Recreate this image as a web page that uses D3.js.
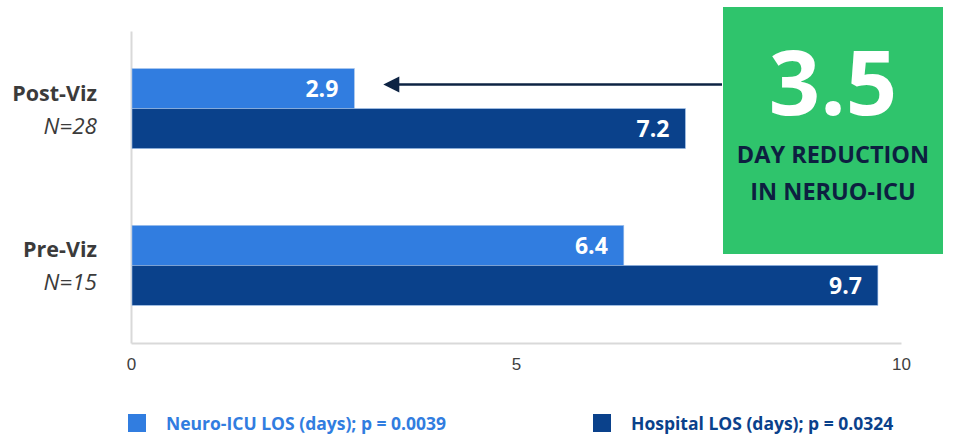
<!DOCTYPE html>
<html>
<head>
<meta charset="utf-8">
<script src="https://cdn.jsdelivr.net/npm/d3@7"></script>
<style>
  body { margin: 0; background: #fff; }
  svg { display: block; font-family: "Open Sans", sans-serif; }
</style>
</head>
<body>
<div id="chart"></div>
<script>
const groups = ['Post-Viz', 'Pre-Viz'];
const nLabels = ['N=28', 'N=15'];
const neuroICU = [2.9, 6.4];
const hospital = [7.2, 9.7];
const seriesNames = ['Neuro-ICU LOS (days); p = 0.0039', 'Hospital LOS (days); p = 0.0324'];
const seriesColors = ['#317de0', '#0a418b'];
const xTicks = [0, 5, 10];
const reduction = '3.5';
const reductionText = ['DAY REDUCTION', 'IN NERUO-ICU'];

const largura = 958, altura = 434;
const svg = d3.select('#chart').append('svg')
    .attr('width', largura)
    .attr('height', altura);

const x = d3.scaleLinear().domain([0, 10]).range([131, 901]);
const y = d3.scaleBand().domain(groups).range([31, 343])
    .paddingInner(0.49).paddingOuter(0.24);
const ySub = d3.scaleBand().domain([0, 1]).range([0, y.bandwidth()]);

// eixos
const gx = svg.append('g')
    .attr('transform', 'translate(0,343)')
    .call(d3.axisBottom(x).tickValues(xTicks).tickSize(0).tickPadding(15));
gx.select('.domain').attr('stroke', '#d9d9d9').attr('stroke-width', 2);
gx.selectAll('text')
    .attr('font-size', 17)
    .attr('font-weight', 300)
    .attr('fill', '#404040');

const gy = svg.append('g')
    .attr('transform', 'translate(131,0)')
    .call(d3.axisLeft(y).tickSize(0).tickFormat(''));
gy.select('.domain').attr('stroke', '#d9d9d9').attr('stroke-width', 2);

// barras
const rows = groups.map((g, i) => ({ grupo: g, n: nLabels[i], valores: [neuroICU[i], hospital[i]] }));
const grupo = svg.append('g').selectAll('g')
    .data(rows)
    .enter()
    .append('g')
    .attr('transform', d => `translate(0,${y(d.grupo)})`);

grupo.selectAll('rect')
    .data(d => d.valores)
    .enter()
    .append('rect')
    .attr('x', x(0) + 1)
    .attr('y', (d, i) => ySub(i))
    .attr('width', d => x(d) - x(0) - 1)
    .attr('height', ySub.bandwidth())
    .attr('fill', (d, i) => seriesColors[i])
    .attr('stroke', '#9fc0ea')
    .attr('stroke-width', 0.6);

grupo.selectAll('text.valor')
    .data(d => d.valores)
    .enter()
    .append('text')
    .attr('class', 'valor')
    .attr('x', d => x(d) - 16)
    .attr('y', (d, i) => ySub(i) + ySub.bandwidth() / 2 + 8.5)
    .attr('text-anchor', 'end')
    .attr('font-size', 23)
    .attr('font-weight', 700)
    .attr('fill', '#fff')
    .text(d => d.toFixed(1));

// rótulos das categorias
grupo.append('text')
    .attr('x', 97)
    .attr('y', y.bandwidth() / 2 - 8)
    .attr('text-anchor', 'end')
    .attr('font-size', 21.5)
    .attr('font-weight', 700)
    .attr('fill', '#3b3b3b')
    .text(d => d.grupo);

grupo.append('text')
    .attr('x', 97)
    .attr('y', y.bandwidth() / 2 + 25)
    .attr('text-anchor', 'end')
    .attr('font-size', 22.5)
    .attr('font-style', 'italic')
    .attr('fill', '#3b3b3b')
    .text(d => d.n);

// seta
const arrowY = y(groups[0]) + ySub.bandwidth() / 2 - 4;
const tip = x(neuroICU[0]) + 29;
svg.append('line')
    .attr('x1', 722).attr('x2', tip + 14)
    .attr('y1', arrowY).attr('y2', arrowY)
    .attr('stroke', '#0d2343')
    .attr('stroke-width', 2.5);
svg.append('path')
    .attr('d', `M${tip},${arrowY} L${tip + 16},${arrowY - 8} L${tip + 16},${arrowY + 8} Z`)
    .attr('fill', '#0d2343');

// caixa verde
const box = svg.append('g');
box.append('rect')
    .attr('x', 723).attr('y', 7)
    .attr('width', 220).attr('height', 247)
    .attr('fill', '#2fc46c');
box.append('text')
    .attr('x', 833).attr('y', 115)
    .attr('text-anchor', 'middle')
    .attr('font-size', 90)
    .attr('font-weight', 700)
    .attr('fill', '#fff')
    .text(reduction);
box.selectAll('text.sub')
    .data(reductionText)
    .enter()
    .append('text')
    .attr('class', 'sub')
    .attr('x', 833)
    .attr('y', (d, i) => 163 + i * 37)
    .attr('text-anchor', 'middle')
    .attr('font-size', 23.5)
    .attr('font-weight', 700)
    .attr('fill', '#0d1f40')
    .text(d => d);

// legenda
const legX = [128, 593];
const leg = svg.append('g').selectAll('g')
    .data(seriesNames)
    .enter()
    .append('g')
    .attr('transform', (d, i) => `translate(${legX[i]},414)`);
leg.append('rect')
    .attr('width', 18).attr('height', 18)
    .attr('fill', (d, i) => seriesColors[i]);
leg.append('text')
    .attr('x', 38).attr('y', 16)
    .attr('font-size', 17.5)
    .attr('font-weight', 700)
    .attr('fill', (d, i) => seriesColors[i])
    .text(d => d);
</script>
</body>
</html>
